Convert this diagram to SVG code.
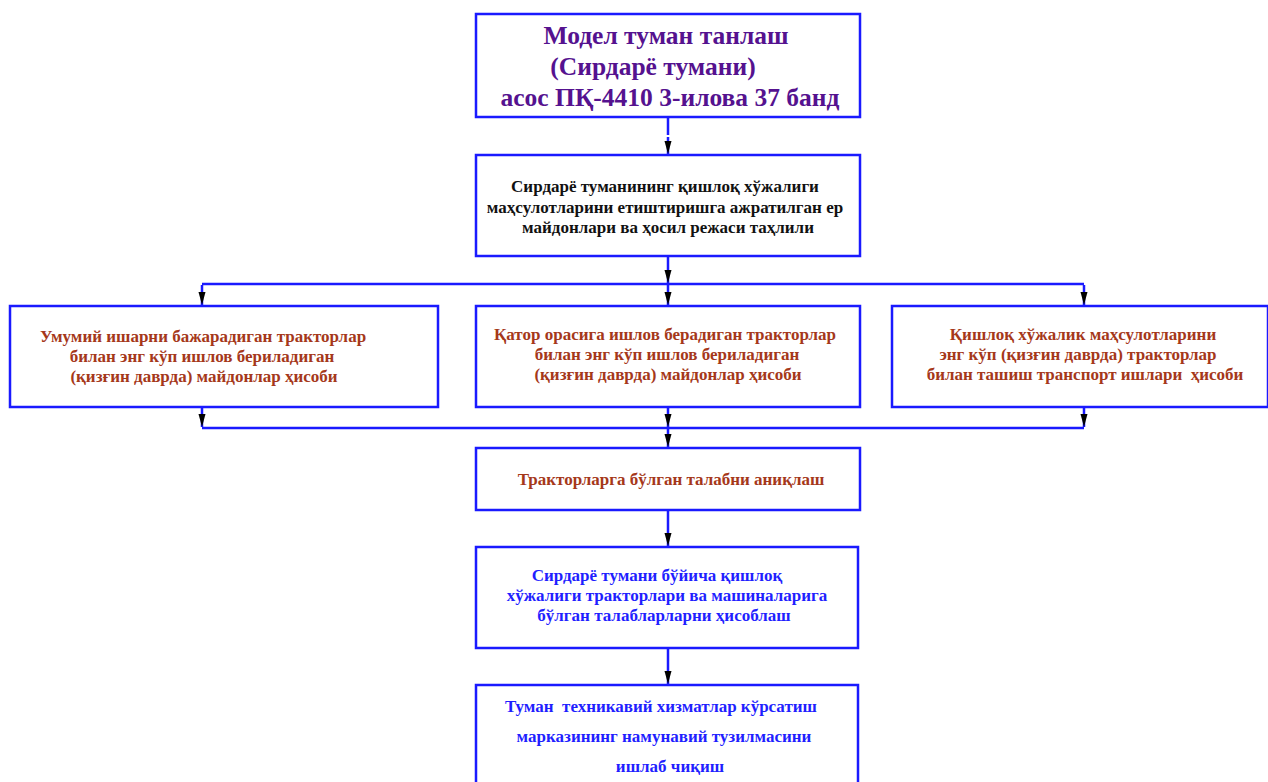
<svg xmlns="http://www.w3.org/2000/svg" width="1268" height="782" viewBox="0 0 1268 782">
<defs>
<marker id="ah" markerUnits="userSpaceOnUse" markerWidth="14" markerHeight="8" refX="13" refY="4" orient="auto" viewBox="0 0 14 8">
<path d="M0,0.5 L13,4 L0,7.5 Z" fill="#000"/>
</marker>
<style>
.box{fill:#fff;stroke:#1a1aff;stroke-width:2.5}
.ln{fill:none;stroke:#1a1aff;stroke-width:2.5}
.ar{fill:none;stroke:#1a1aff;stroke-width:2.5;marker-end:url(#ah)}
text{font-family:"Liberation Serif","Times New Roman",serif;font-weight:bold;text-anchor:middle}
.t1{font-size:25.5px;fill:#55128f}
.k{font-size:17px;fill:#111}
.r{font-size:17px;fill:#a5381a}
.b{font-size:17px;fill:#1f1fff}
</style>
</defs>
<g id="connectors">
<line class="ln" x1="668" y1="117" x2="668" y2="135"/>
<line class="ar" x1="668" y1="137" x2="668" y2="154"/>
<line class="ln" x1="668" y1="256" x2="668" y2="266"/>
<line class="ar" x1="668" y1="266" x2="668" y2="283"/>
<line class="ln" x1="202" y1="284" x2="1084" y2="284"/>
<line class="ar" x1="202" y1="285" x2="202" y2="305"/>
<line class="ar" x1="668" y1="285" x2="668" y2="305"/>
<line class="ar" x1="1084" y1="285" x2="1084" y2="305"/>
<line class="ar" x1="202" y1="407" x2="202" y2="427"/>
<line class="ar" x1="668" y1="407" x2="668" y2="427"/>
<line class="ar" x1="1084" y1="407" x2="1084" y2="427"/>
<line class="ln" x1="202" y1="428" x2="1084" y2="428"/>
<line class="ar" x1="668" y1="429" x2="668" y2="447"/>
<line class="ln" x1="668" y1="510" x2="668" y2="527"/>
<line class="ar" x1="668" y1="527" x2="668" y2="546"/>
<line class="ln" x1="668" y1="648" x2="668" y2="665"/>
<line class="ar" x1="668" y1="665" x2="668" y2="684"/>
</g>
<g id="n1">
<rect class="box" x="476" y="14" width="384" height="103"/>
<text class="t1" x="666" y="44">Модел туман танлаш</text>
<text class="t1" x="653" y="75">(Сирдарё тумани)</text>
<text class="t1" x="670" y="106">асос ПҚ-4410 3-илова 37 банд</text>
</g>
<g id="n2">
<rect class="box" x="476" y="155" width="384" height="101"/>
<text class="k" x="665" y="192">Сирдарё туманининг қишлоқ хўжалиги</text>
<text class="k" x="665" y="213">маҳсулотларини етиштиришга ажратилган ер</text>
<text class="k" x="668" y="233">майдонлари ва ҳосил режаси таҳлили</text>
</g>
<g id="n3">
<rect class="box" x="10" y="306" width="428" height="101"/>
<text class="r" x="203" y="342">Умумий ишарни бажарадиган тракторлар</text>
<text class="r" x="202" y="362">билан энг кўп ишлов бериладиган</text>
<text class="r" x="204" y="382">(қизғин даврда) майдонлар ҳисоби</text>
</g>
<g id="n4">
<rect class="box" x="476" y="306" width="384" height="101"/>
<text class="r" x="665" y="340">Қатор орасига ишлов берадиган тракторлар</text>
<text class="r" x="667" y="360">билан энг кўп ишлов бериладиган</text>
<text class="r" x="668" y="380">(қизғин даврда) майдонлар ҳисоби</text>
</g>
<g id="n5">
<rect class="box" x="892" y="306" width="376" height="101"/>
<text class="r" x="1083" y="340">Қишлоқ хўжалик маҳсулотларини</text>
<text class="r" x="1078" y="360">энг кўп (қизғин даврда) тракторлар</text>
<text class="r" x="1085" y="380" xml:space="preserve">билан ташиш транспорт ишлари  ҳисоби</text>
</g>
<g id="n6">
<rect class="box" x="476" y="448" width="384" height="62"/>
<text class="r" x="671" y="485">Тракторларга бўлган талабни аниқлаш</text>
</g>
<g id="n7">
<rect class="box" x="476" y="547" width="382" height="101"/>
<text class="b" x="657" y="581">Сирдарё тумани бўйича қишлоқ</text>
<text class="b" x="667" y="601">хўжалиги тракторлари ва машиналарига</text>
<text class="b" x="664" y="621">бўлган талабларларни ҳисоблаш</text>
</g>
<g id="n8">
<rect class="box" x="476" y="685" width="382" height="110"/>
<text class="b" x="661" y="712" xml:space="preserve">Туман  техникавий хизматлар кўрсатиш</text>
<text class="b" x="664" y="742">марказининг намунавий тузилмасини</text>
<text class="b" x="670" y="772">ишлаб чиқиш</text>
</g>
</svg>
